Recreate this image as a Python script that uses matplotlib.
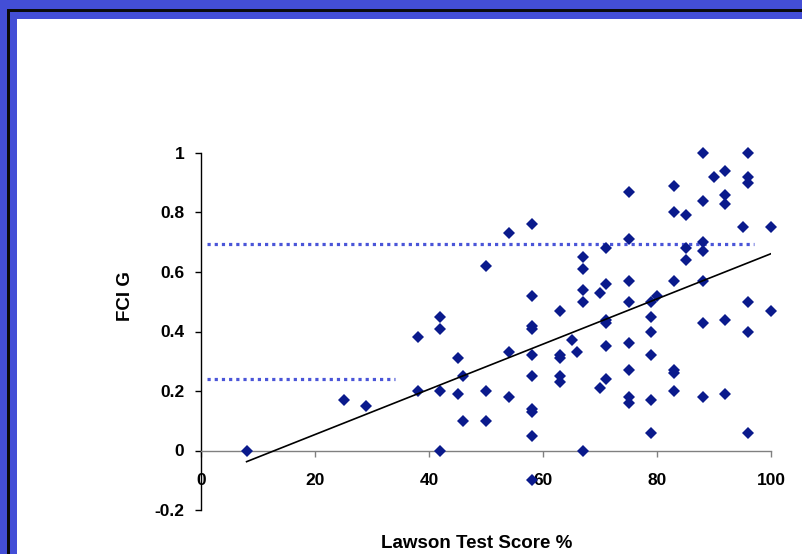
import numpy as np
import matplotlib
matplotlib.use("Agg")
import matplotlib.pyplot as plt
from matplotlib.patches import Rectangle

# Lawson test score (%) vs FCI normalised gain
lawson = [8, 25, 29, 38, 38, 42, 42, 42, 42, 45, 45, 46, 46, 50, 50, 50,
          54, 54, 54, 58, 58, 58, 58, 58, 58, 58, 58, 58, 58,
          63, 63, 63, 63, 63, 65, 66, 67, 67, 67, 67, 67, 70, 70,
          71, 71, 71, 71, 71, 71, 75, 75, 75, 75, 75, 75, 75, 75,
          79, 79, 79, 79, 79, 79, 80, 83, 83, 83, 83, 83, 83,
          85, 85, 85, 88, 88, 88, 88, 88, 88, 88, 90,
          92, 92, 92, 92, 92, 95, 96, 96, 96, 96, 96, 96, 100, 100]
fci_g = [0.00, 0.17, 0.15, 0.38, 0.20, 0.45, 0.41, 0.20, 0.00, 0.31, 0.19, 0.25, 0.10, 0.62, 0.20, 0.10,
         0.73, 0.33, 0.18, 0.76, 0.52, 0.42, 0.41, 0.32, 0.25, 0.14, 0.13, 0.05, -0.10,
         0.47, 0.32, 0.31, 0.25, 0.23, 0.37, 0.33, 0.65, 0.61, 0.54, 0.50, 0.00, 0.53, 0.21,
         0.68, 0.56, 0.44, 0.43, 0.35, 0.24, 0.87, 0.71, 0.57, 0.50, 0.36, 0.27, 0.18, 0.16,
         0.50, 0.45, 0.40, 0.32, 0.17, 0.06, 0.52, 0.89, 0.80, 0.57, 0.27, 0.26, 0.20,
         0.79, 0.68, 0.64, 1.00, 0.84, 0.70, 0.67, 0.57, 0.43, 0.18, 0.92,
         0.94, 0.86, 0.83, 0.44, 0.19, 0.75, 1.00, 0.92, 0.90, 0.50, 0.40, 0.06, 0.75, 0.47]

# dotted reference levels: (y, x_start, x_end)
upper_level = (0.695, 1, 97)
lower_level = (0.24, 1, 34)

x_ticks = [0, 20, 40, 60, 80, 100]
y_ticks = [-0.2, 0, 0.2, 0.4, 0.6, 0.8, 1]
y_tick_labels = ['-0.2', '0', '0.2', '0.4', '0.6', '0.8', '1']

W, H = 802, 554
BLUE = '#434ED6'
MARK = '#0A1A8C'
DOT = '#4A55D8'

plt.rcParams['font.family'] = ['Liberation Sans', 'DejaVu Sans']
plt.rcParams['font.weight'] = 'bold'

fig = plt.figure(figsize=(W / 100, H / 100), dpi=100)


def px_rect(x0, y0, x1, y1, color):
    """Rectangle given in image pixels (origin top-left)."""
    fig.patches.append(Rectangle((x0 / W, 1 - y1 / H), (x1 - x0) / W, (y1 - y0) / H,
                                 transform=fig.transFigure, color=color, lw=0, zorder=-10))


# slide frame
px_rect(0, 0, W, H, BLUE)
px_rect(7, 9, W, 12, '#0A0A0A')
px_rect(7, 9, 9.5, H, '#0A0A0A')
px_rect(17, 19, W, H, 'white')

ax = fig.add_axes([201 / W, 44 / H, 570 / W, 357 / H])
ax.patch.set_alpha(0)

ax.plot(lawson, fci_g, linestyle='none', marker='D', markersize=6,
        color=MARK, markeredgewidth=0, zorder=3, clip_on=False)

# linear trendline over the data range
slope, intercept = np.polyfit(lawson, fci_g, 1)
xs = np.array([min(lawson), max(lawson)])
ax.plot(xs, slope * xs + intercept, color='black', lw=1.2, zorder=4)

for lvl, xa, xb in (upper_level, lower_level):
    ax.plot([xa, xb], [lvl, lvl], color=DOT, lw=2.3,
            linestyle=(0, (1, 1.25)), dash_capstyle='butt', zorder=2)

ax.set_xlim(0, 100)
ax.set_ylim(-0.2, 1)
ax.spines['top'].set_visible(False)
ax.spines['right'].set_visible(False)
ax.spines['bottom'].set_position(('data', 0))
ax.spines['bottom'].set_color('#808080')
ax.spines['left'].set_color('black')
for s in ('bottom', 'left'):
    ax.spines[s].set_linewidth(1.0)

ax.set_xticks(x_ticks)
ax.set_yticks(y_ticks)
ax.set_yticklabels(y_tick_labels)
ax.tick_params(axis='x', direction='out', length=4.5, width=1, color='#808080',
               pad=12, labelsize=12.5)
ax.tick_params(axis='y', direction='out', length=4, width=1, color='black',
               pad=8, labelsize=12.5)

fig.text(125 / W, 1 - 296 / H, 'FCI G', rotation=90, ha='center', va='center',
         fontsize=13.5, fontweight='bold')
fig.text(477 / W, 1 - 544 / H, 'Lawson Test Score %', ha='center', va='center',
         fontsize=13.5, fontweight='bold')

fig.savefig('out.png', dpi=100)
